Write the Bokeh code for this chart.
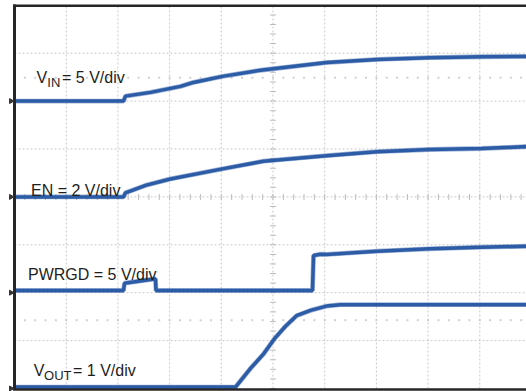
import numpy as np
from bokeh.plotting import figure
from bokeh.models import Range1d
from bokeh.core.properties import value
from bokeh.embed import file_html
from bokeh.resources import INLINE

# ---- data (time in scope divisions, signals in volts) ----
vin_t = [0.0, 2.108, 2.147, 2.631, 3.211, 3.462, 4.023, 4.758, 6.035, 7.021, 8.027, 9.033, 9.903]
vin_v = [0.0, 0.0, 0.52, 0.91, 1.54, 1.95, 2.58, 3.22, 4.02, 4.35, 4.53, 4.63, 4.66]

en_t = [0.0, 2.108, 2.147, 2.534, 3.017, 4.023, 4.816, 6.035, 7.021, 8.027, 9.033, 9.903]
en_v = [0.0, 0.0, 0.17, 0.48, 0.75, 1.17, 1.49, 1.72, 1.89, 1.98, 2.02, 2.10]

pg_t = [0.0, 2.108, 2.128, 2.727, 2.737, 5.764, 5.784, 5.919, 6.035, 7.021, 8.027, 9.033, 9.903]
pg_v = [0.23, 0.23, 0.99, 1.45, 0.23, 0.23, 3.88, 4.02, 4.0, 4.33, 4.58, 4.75, 4.85]

vout_t = [0.0, 4.275, 4.565, 4.816, 5.029, 5.242, 5.455, 5.725, 6.035, 6.306, 7.021, 9.903]
vout_v = [0.03, 0.03, 0.42, 0.72, 1.04, 1.30, 1.52, 1.63, 1.72, 1.75, 1.75, 1.75]

# channel settings: (ground level in divisions, volts per division)
vin_gnd, vin_scale = 6.0, 5.0
en_gnd, en_scale = 4.0, 2.0
pg_gnd, pg_scale = 2.0, 5.0
vout_gnd, vout_scale = 0.0, 1.0

# ---- pixel helpers (layout only) ----
X0, DX, Y0, DY = 14.0, 51.7, 388.0, 47.9
def tx(px):
    return (px - X0) / DX
def ty(py):
    return (Y0 - py) / DY

p = figure(width=526, height=391, output_backend="svg", toolbar_location=None,
           x_range=Range1d(tx(0), tx(526)), y_range=Range1d(ty(391), ty(0)),
           min_border=0, min_border_left=0, min_border_right=0,
           min_border_top=0, min_border_bottom=0)
p.xaxis.visible = False
p.yaxis.visible = False
p.grid.visible = False
p.outline_line_color = None
p.background_fill_color = "white"
p.border_fill_color = "white"

GRID = "#c9c9c9"
# graticule
xs = list(range(1, 11))
p.segment(x0=xs, y0=[0] * len(xs), x1=xs, y1=[8] * len(xs),
          line_color=GRID, line_width=1, line_dash="2 2")
ys = list(range(1, 8))
p.segment(x0=[0] * len(ys), y0=ys, x1=[10] * len(ys), y1=ys,
          line_color=GRID, line_width=1, line_dash="2 2")

# minor ticks on centre lines
tk = [k * 0.2 for k in range(0, 51)]
p.rect(x=tk, y=[4] * len(tk), width=1, height=6, width_units="screen", height_units="screen",
       fill_color="#bdbdbd", line_color=None)
tv = [k * 0.2 for k in range(0, 41)]
p.rect(x=[5] * len(tv), y=tv, width=6, height=1, width_units="screen", height_units="screen",
       fill_color="#bdbdbd", line_color=None)
# cursor rows of dots
for row in (ty(77.3), ty(319.7)):
    p.rect(x=tk, y=[row] * len(tk), width=2, height=2, width_units="screen", height_units="screen",
           fill_color="#d0d0d0", line_color=None)

BLUE = "#2d5ca7"
def trace(t, v, gnd, scale):
    y = [gnd + vv / scale for vv in v]
    p.line(t, y, line_color=BLUE, line_width=4.8, line_alpha=0.45)
    p.line(t, y, line_color=BLUE, line_width=3.5)

trace(vin_t, vin_v, vin_gnd, vin_scale)
trace(en_t, en_v, en_gnd, en_scale)
trace(pg_t, pg_v, pg_gnd, pg_scale)
trace(vout_t, vout_v, vout_gnd, vout_scale)

# frame
FRAME = "#262626"
p.segment(x0=[tx(14)], y0=[ty(389.5)], x1=[tx(14)], y1=[ty(4)], line_color=FRAME, line_width=3)
p.segment(x0=[tx(12.5)], y0=[ty(5.2)], x1=[tx(526)], y1=[ty(5.2)], line_color=FRAME, line_width=2.5)
p.segment(x0=[tx(12.5)], y0=[ty(389)], x1=[tx(526)], y1=[ty(389)], line_color=FRAME, line_width=2.5)

# ground markers
p.scatter(x=[tx(10.5)] * 4, y=[vin_gnd, en_gnd, pg_gnd, ty(388)], marker="triangle",
          angle=-np.pi / 2, size=5, fill_color="#333333", line_color="#333333")

# labels
FONT = value("Liberation Sans")
TC = "#1e1e1e"
def lab(x, y, s, size):
    p.text(x=[tx(x)], y=[ty(y)], text=[s], text_font=FONT, text_font_size=size,
           text_baseline="alphabetic", text_align="left", text_color=TC)

lab(36, 77.3, "V", "16px")
lab(46.8, 81.7, "IN", "13px")
lab(61.5, 77.3, "= 5 V/div", "16px")
lab(30.5, 189.5, "EN = 2 V/div", "16px")
lab(27.5, 273.8, "PWRGD = 5 V/div", "16px")
lab(33.3, 370, "V", "16px")
lab(43.6, 374.5, "OUT", "13px")
lab(72.5, 370, "= 1 V/div", "16px")

open("out.html", "w").write(file_html(p, INLINE))
